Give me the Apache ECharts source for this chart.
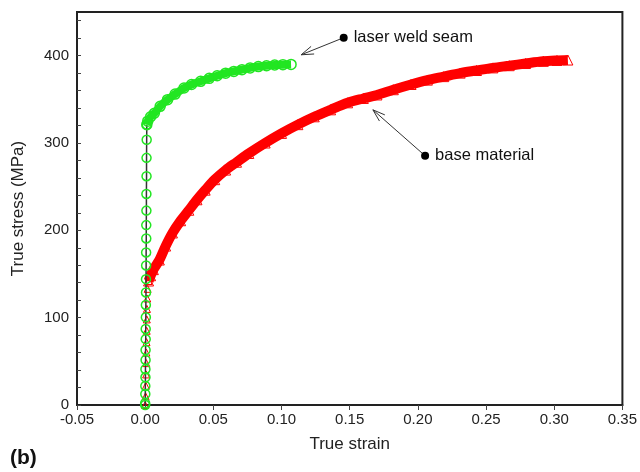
<!DOCTYPE html>
<html>
<head>
<meta charset="utf-8">
<script src="https://cdn.jsdelivr.net/npm/echarts@6/dist/echarts.min.js"></script>
<style>
    html,body{margin:0;padding:0;background:#fff;}
    #main{width:640px;height:472px;}
</style>
</head>
<body>
<div id="main"></div>
<script>
// x轴刻度
var xTicks = [-0.05, 0, 0.05, 0.10, 0.15, 0.20, 0.25, 0.30, 0.35];
var yTicks = [0, 100, 200, 300, 400];

// laser weld seam - 弹性段
var weldElasticStrain = [0.0000, 0.0000, 0.0001, 0.0001, 0.0002, 0.0002, 0.0003, 0.0003, 0.0004, 0.0004, 0.0005, 0.0005, 0.0006, 0.0006, 0.0007, 0.0007, 0.0008, 0.0008, 0.0009, 0.0009, 0.0010, 0.0010, 0.0011, 0.0012];
var weldElasticStress = [0, 2, 12.6, 21.8, 31.7, 41, 51.6, 63, 75.4, 87.1, 100.5, 114.6, 128.9, 144.1, 159.8, 174.7, 190.7, 206, 222.6, 241.7, 262, 283, 303.7, 321];
// laser weld seam - 塑性段
var weldPlasticStrain = [0.0012, 0.0019, 0.004, 0.0067, 0.011, 0.0164, 0.022, 0.0285, 0.034, 0.0407, 0.047, 0.0528, 0.059, 0.065, 0.071, 0.077, 0.083, 0.089, 0.095, 0.101, 0.107];
var weldPlasticStress = [321, 325, 330, 334, 342, 349.6, 356, 363, 367, 370.6, 374, 377, 380, 382, 384, 386, 387.5, 388.5, 389.3, 389.7, 390];

// base material - 弹性段
var baseElasticStrain = [0, 0.0003, 0.0005, 0.0007, 0.0008, 0.0009, 0.0010, 0.0011, 0.0012, 0.0013, 0.0015, 0.0018, 0.0025];
var baseElasticStress = [0, 10, 22, 35, 48, 60, 72, 85, 98, 110, 122, 133, 142];
// base material - 塑性段
var basePlasticStrain = [0.0025, 0.004, 0.006, 0.0104, 0.015, 0.020, 0.026, 0.032, 0.038, 0.044, 0.051, 0.059, 0.067, 0.076, 0.088, 0.100, 0.112, 0.124, 0.136, 0.1485, 0.160, 0.170, 0.182, 0.195, 0.207, 0.219, 0.231, 0.243, 0.255, 0.267, 0.279, 0.292, 0.302, 0.310];
var basePlasticStress = [142, 148, 155, 166, 182, 197, 211, 223, 235, 246, 258, 269, 278, 288, 300, 311, 321, 330, 338, 346, 351, 355, 361, 367, 372, 376, 380, 383, 386, 388.5, 391, 393.5, 394.5, 395];

// 标注 [圆点, 箭头尖]
var weldNoteDot = [0.1456, 420.6];
var weldNoteTip = [0.1144, 401];
var baseNoteDot = [0.2053, 285.4];
var baseNoteTip = [0.167, 338];
var weldNoteText = 'laser weld seam';
var baseNoteText = 'base material';

function pair(xs, ys){
    var out = [];
    for(var i = 0; i < xs.length; i++){
        out.push([xs[i], ys[i]]);
    }
    return out;
}

var font = 'Liberation Sans';
var RED = '#ff0000';
var GREEN = '#22e622';

var myChart = echarts.init(document.getElementById('main'), null, {renderer: 'canvas'});

var option = {
    animation: false,
    backgroundColor: '#fff',
    grid: {
        left: 77,
        right: 13,
        top: 12,
        bottom: 67,
        show: true,
        borderColor: '#222',
        borderWidth: 2
    },
    xAxis: {
        type: 'value',
        min: xTicks[0],
        max: xTicks[xTicks.length - 1],
        interval: 0.05,
        name: 'True strain',
        nameLocation: 'middle',
        nameGap: 31,
        nameTextStyle: {fontFamily: font, fontSize: 17, color: '#222'},
        axisLine: {show: true, onZero: false, lineStyle: {color: '#222', width: 2}},
        axisTick: {show: true, inside: false, length: 5, lineStyle: {color: '#444', width: 1}},
        axisLabel: {
            fontFamily: font, fontSize: 15, color: '#222', margin: 7,
            formatter: function(v){ return v.toFixed(2); }
        },
        splitLine: {show: false}
    },
    yAxis: {
        type: 'value',
        min: 0,
        max: 450,
        interval: 20,
        name: 'True stress (MPa)',
        nameLocation: 'middle',
        nameGap: 50,
        nameTextStyle: {fontFamily: font, fontSize: 17, color: '#222'},
        axisLine: {show: true, onZero: false, lineStyle: {color: '#222', width: 2}},
        axisTick: {show: true, inside: true, length: 4, lineStyle: {color: '#444', width: 1}},
        axisLabel: {
            fontFamily: font, fontSize: 15, color: '#222', margin: 8,
            showMaxLabel: false,
            formatter: function(v){
                return yTicks.indexOf(v) >= 0 ? String(v) : '';
            }
        },
        splitLine: {show: false}
    },
    series: [
        {
            // 母材 弹性段
            type: 'line',
            data: pair(baseElasticStrain, baseElasticStress),
            symbol: 'triangle',
            symbolSize: 7,
            lineStyle: {width: 0, color: RED},
            itemStyle: {color: 'rgba(255,255,255,0)', borderColor: RED, borderWidth: 1},
            z: 2
        },
        {
            // 母材 塑性段
            type: 'line',
            data: pair(basePlasticStrain, basePlasticStress),
            symbol: 'triangle',
            symbolSize: 10,
            smooth: 0.3,
            lineStyle: {width: 10, color: RED, cap: 'butt'},
            itemStyle: {color: 'rgba(255,255,255,0)', borderColor: RED, borderWidth: 1},
            z: 2
        },
        {
            // 焊缝 弹性段 (黑线连接)
            type: 'line',
            data: pair(weldElasticStrain, weldElasticStress),
            symbol: 'circle',
            symbolSize: 9,
            lineStyle: {width: 1.5, color: '#333'},
            itemStyle: {color: 'rgba(255,255,255,0)', borderColor: GREEN, borderWidth: 1.5},
            z: 3
        },
        {
            // 焊缝 塑性段
            type: 'line',
            data: pair(weldPlasticStrain, weldPlasticStress),
            symbol: 'circle',
            symbolSize: 10,
            smooth: 0.3,
            lineStyle: {width: 8, color: GREEN, cap: 'butt'},
            itemStyle: {color: 'rgba(255,255,255,0)', borderColor: GREEN, borderWidth: 1.5},
            z: 3
        }
    ]
};
myChart.setOption(option);

// 画标注: 圆点 + 箭头 + 文字
function noteGraphic(dot, tip, text){
    var p0 = myChart.convertToPixel({gridIndex: 0}, dot);
    var p1 = myChart.convertToPixel({gridIndex: 0}, tip);
    var ang = Math.atan2(p0[1] - p1[1], p0[0] - p1[0]);
    var len = 13, spread = 0.32;
    var a1 = [p1[0] + len * Math.cos(ang + spread), p1[1] + len * Math.sin(ang + spread)];
    var a2 = [p1[0] + len * Math.cos(ang - spread), p1[1] + len * Math.sin(ang - spread)];
    return [
        {type: 'line', shape: {x1: p0[0], y1: p0[1], x2: p1[0], y2: p1[1]}, style: {stroke: '#333', lineWidth: 1}, z: 10},
        {type: 'line', shape: {x1: p1[0], y1: p1[1], x2: a1[0], y2: a1[1]}, style: {stroke: '#333', lineWidth: 1}, z: 10},
        {type: 'line', shape: {x1: p1[0], y1: p1[1], x2: a2[0], y2: a2[1]}, style: {stroke: '#333', lineWidth: 1}, z: 10},
        {type: 'circle', shape: {cx: p0[0], cy: p0[1], r: 4}, style: {fill: '#000'}, z: 11},
        {type: 'text', x: p0[0] + 10, y: p0[1], style: {text: text, fontFamily: font, fontSize: 16.5, fill: '#111', verticalAlign: 'middle'}, z: 11}
    ];
}

var elements = noteGraphic(weldNoteDot, weldNoteTip, weldNoteText)
    .concat(noteGraphic(baseNoteDot, baseNoteTip, baseNoteText));
elements.push({
    type: 'text', left: 10, top: 448,
    style: {text: '(b)', fontFamily: font, fontSize: 21, fontWeight: 'bold', fill: '#111'}
});
myChart.setOption({graphic: elements});
</script>
</body>
</html>
